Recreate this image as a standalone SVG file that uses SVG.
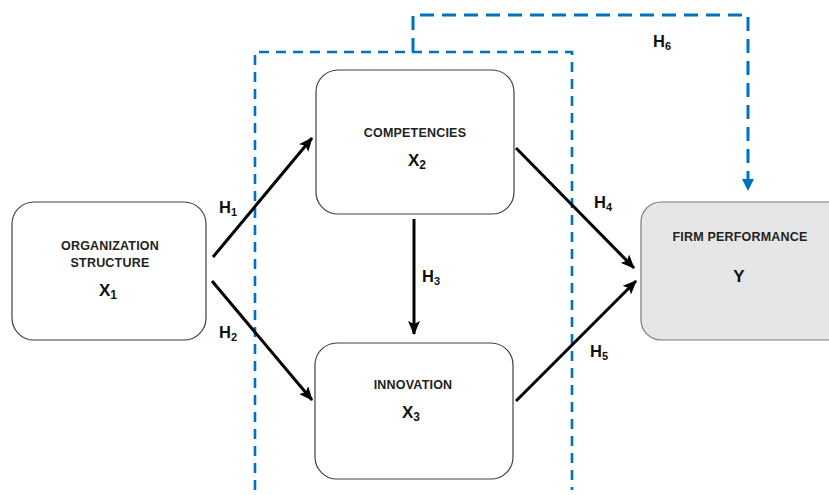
<svg xmlns="http://www.w3.org/2000/svg" width="829" height="495" viewBox="0 0 829 495">
<style>
.box{fill:#fff;stroke:#404040;stroke-width:1.2}
.boxg{fill:#e6e6e6;stroke:#7a7a7a;stroke-width:1.2}
.t{font-family:"Liberation Sans",Arial,sans-serif;font-weight:bold;font-size:12.5px;fill:#222;text-anchor:middle;letter-spacing:0.2px}
.v{font-family:"Liberation Sans",Arial,sans-serif;font-weight:bold;font-size:17px;fill:#111;text-anchor:middle}
.h{font-family:"Liberation Sans",Arial,sans-serif;font-weight:bold;font-size:16.5px;fill:#111}
.arr{stroke:#000;stroke-width:3;fill:none;marker-end:url(#ah)}
.dash{stroke:#0070c0;stroke-width:2.6;fill:none;stroke-dasharray:10 7}
.dash6{stroke:#0070c0;stroke-width:3;fill:none;stroke-dasharray:14 8;marker-end:url(#ahb)}
</style>
<defs>
<marker id="ah" markerUnits="userSpaceOnUse" markerWidth="14" markerHeight="12" viewBox="0 0 14 12" refX="13" refY="6" orient="auto">
<path d="M0,0 L14,6 L0,12 L3,6 Z" fill="#000"/>
</marker>
<marker id="ahb" markerUnits="userSpaceOnUse" markerWidth="12" markerHeight="12" viewBox="0 0 12 12" refX="11" refY="6" orient="auto">
<path d="M0,0 L12,6 L0,12 Z" fill="#0070c0"/>
</marker>
</defs>
<g id="group-boundary">
<path class="dash" d="M255,490 L255,52 L572,52 L572,490"/>
</g>
<g id="node-x1">
<rect class="box" x="12" y="202" width="194" height="138" rx="22"/>
<text class="t" x="110" y="250">ORGANIZATION</text>
<text class="t" x="110" y="267">STRUCTURE</text>
<text class="v" x="108" y="296">X<tspan font-size="12" dy="3">1</tspan></text>
</g>
<g id="node-x2">
<rect class="box" x="316" y="70" width="198" height="144" rx="22"/>
<text class="t" x="415" y="137">COMPETENCIES</text>
<text class="v" x="417" y="166">X<tspan font-size="12" dy="3">2</tspan></text>
</g>
<g id="node-x3">
<rect class="box" x="315" y="343" width="198" height="136" rx="22"/>
<text class="t" x="413" y="389">INNOVATION</text>
<text class="v" x="411" y="418">X<tspan font-size="12" dy="3">3</tspan></text>
</g>
<g id="node-y">
<rect class="boxg" x="641" y="202" width="210" height="138" rx="20"/>
<text class="t" x="740" y="241">FIRM PERFORMANCE</text>
<text class="v" x="739" y="282">Y</text>
</g>
<g id="connectors">
<line class="arr" x1="213" y1="257" x2="312" y2="138"/>
<line class="arr" x1="212" y1="281" x2="312" y2="400"/>
<line class="arr" x1="414" y1="219" x2="414" y2="334"/>
<line class="arr" x1="516" y1="148" x2="634" y2="268"/>
<line class="arr" x1="516" y1="401" x2="636" y2="281"/>
<path class="dash6" d="M413,52 L413,15 L748,15 L748,190"/>
<text class="h" x="219" y="213">H<tspan font-size="11" dy="3">1</tspan></text>
<text class="h" x="219" y="338">H<tspan font-size="11" dy="3">2</tspan></text>
<text class="h" x="422" y="282">H<tspan font-size="11" dy="3">3</tspan></text>
<text class="h" x="594" y="208">H<tspan font-size="11" dy="3">4</tspan></text>
<text class="h" x="590" y="357">H<tspan font-size="11" dy="3">5</tspan></text>
<text class="h" x="653" y="47">H<tspan font-size="11" dy="3">6</tspan></text>
</g>
</svg>
